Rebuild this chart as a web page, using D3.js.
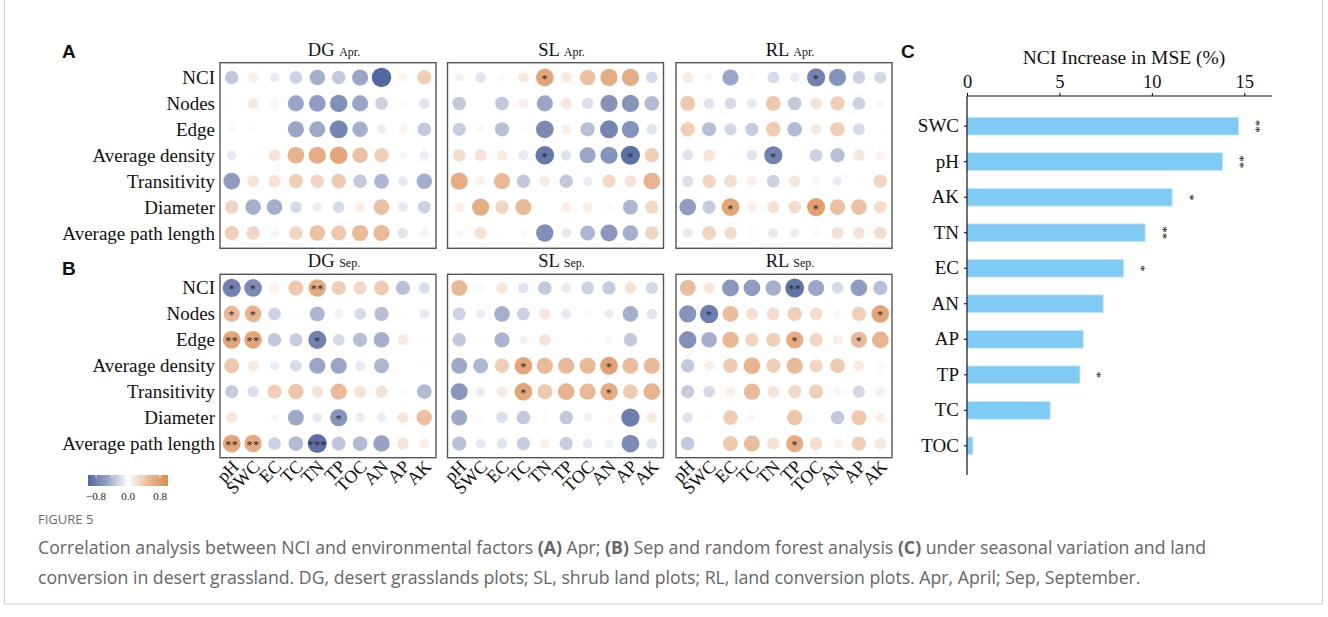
<!DOCTYPE html>
<html>
<head>
<meta charset="utf-8">
<script src="https://cdnjs.cloudflare.com/ajax/libs/d3/7.8.5/d3.min.js"></script>
<style>
  body { margin: 0; background: #fff; }
  svg { display: block; }
</style>
</head>
<body>
<div id="fig"></div>
<script>
// ---- data ----
var cols = ["pH", "SWC", "EC", "TC", "TN", "TP", "TOC", "AN", "AP", "AK"];
var rows = ["NCI", "Nodes", "Edge", "Average density", "Transitivity", "Diameter", "Average path length"];

var dgApr = [
  [-0.30, 0.12, -0.10, -0.25, -0.45, -0.30, -0.50, -0.85, 0.08, 0.35],
  [-0.02, 0.15, 0.08, -0.50, -0.55, -0.62, -0.50, -0.25, -0.03, -0.15],
  [0.06, -0.03, 0.00, -0.50, -0.48, -0.68, -0.45, -0.10, 0.08, -0.30],
  [-0.12, -0.03, 0.20, 0.55, 0.60, 0.65, 0.45, 0.35, -0.05, -0.10],
  [-0.55, 0.20, 0.22, 0.35, 0.30, 0.38, -0.30, -0.40, -0.12, -0.45],
  [0.30, -0.45, -0.45, -0.20, -0.10, -0.20, 0.12, 0.45, -0.12, -0.25],
  [0.35, 0.30, 0.08, 0.30, 0.45, 0.40, 0.50, 0.50, -0.15, -0.08]
];
var slApr = [
  [-0.08, -0.15, 0.05, 0.15, 0.65, 0.15, 0.45, 0.60, 0.60, -0.20],
  [-0.30, 0.00, -0.30, 0.12, -0.50, 0.18, -0.18, -0.60, -0.60, -0.38],
  [-0.28, 0.06, -0.35, 0.04, -0.65, 0.12, -0.35, -0.68, -0.60, -0.15],
  [0.25, 0.20, 0.15, -0.12, -0.75, -0.15, -0.50, -0.60, -0.80, 0.35],
  [0.60, 0.10, 0.50, -0.30, 0.15, -0.30, -0.10, 0.28, 0.20, 0.55],
  [0.12, 0.60, 0.30, 0.50, 0.02, 0.12, 0.12, 0.05, -0.40, 0.28],
  [-0.05, 0.22, 0.03, -0.04, -0.62, -0.12, -0.40, -0.58, -0.45, 0.30]
];
var rlApr = [
  [0.15, -0.05, -0.50, -0.03, -0.20, -0.10, -0.70, -0.60, -0.25, -0.22],
  [0.40, -0.15, -0.20, -0.12, 0.40, -0.30, 0.20, 0.35, -0.25, -0.05],
  [0.35, -0.35, -0.22, -0.28, 0.38, -0.38, 0.15, 0.35, -0.20, 0.02],
  [-0.15, 0.20, 0.02, -0.15, -0.70, 0.01, -0.25, -0.35, 0.18, 0.10],
  [-0.18, 0.30, 0.25, 0.12, -0.25, 0.18, 0.08, -0.10, 0.02, 0.30],
  [-0.55, -0.28, 0.65, 0.12, 0.22, 0.25, 0.70, 0.45, 0.45, 0.25],
  [-0.12, 0.32, 0.25, 0.04, -0.12, -0.10, 0.05, 0.22, 0.20, 0.25]
];
var dgSep = [
  [-0.70, -0.65, 0.10, 0.40, 0.62, 0.35, 0.28, 0.38, -0.35, -0.18],
  [0.50, 0.55, -0.25, -0.02, -0.40, -0.08, -0.20, -0.35, 0.02, -0.12],
  [0.65, 0.65, -0.30, -0.28, -0.70, -0.20, -0.35, -0.45, 0.15, -0.02],
  [0.40, 0.15, -0.10, -0.20, -0.50, -0.50, -0.12, -0.40, 0.01, -0.02],
  [-0.28, -0.18, 0.35, 0.42, 0.20, 0.50, 0.22, 0.22, 0.05, -0.38],
  [0.18, -0.01, -0.05, -0.48, -0.12, -0.60, -0.10, -0.10, 0.18, 0.45],
  [0.65, 0.62, -0.25, -0.38, -0.80, -0.32, -0.38, -0.52, 0.20, 0.12]
];
var slSep = [
  [0.50, 0.05, 0.18, -0.15, -0.30, -0.12, -0.25, -0.28, 0.20, -0.22],
  [-0.25, -0.10, -0.45, -0.25, 0.18, -0.12, 0.06, -0.10, -0.45, -0.15],
  [-0.30, 0.02, -0.42, -0.08, 0.20, 0.00, 0.02, -0.05, -0.30, 0.01],
  [-0.48, -0.40, 0.35, 0.65, 0.50, 0.50, 0.50, 0.68, 0.48, 0.50],
  [-0.58, -0.10, 0.15, 0.65, 0.40, 0.55, 0.50, 0.62, 0.38, 0.55],
  [-0.48, -0.03, -0.18, -0.30, 0.04, -0.30, -0.08, 0.04, -0.72, 0.15],
  [-0.35, -0.12, -0.15, -0.28, 0.10, -0.28, -0.12, -0.08, -0.65, -0.15]
];
var rlSep = [
  [0.48, 0.18, -0.58, -0.55, -0.45, -0.78, -0.50, -0.20, -0.55, -0.35],
  [-0.60, -0.72, 0.48, 0.22, 0.25, 0.35, 0.25, 0.06, 0.35, 0.65],
  [-0.62, -0.45, 0.52, 0.30, 0.35, 0.60, 0.30, 0.12, 0.50, 0.55],
  [-0.30, 0.12, 0.38, 0.55, 0.35, 0.50, 0.28, 0.38, 0.15, 0.06],
  [-0.28, -0.20, 0.12, 0.50, 0.20, 0.28, 0.35, 0.08, -0.22, 0.12],
  [-0.15, 0.04, 0.38, 0.06, 0.01, 0.42, 0.01, -0.30, 0.40, 0.12],
  [-0.30, 0.01, 0.40, 0.48, 0.22, 0.60, 0.25, 0.10, 0.35, 0.18]
];

// significance marks: [row, col, label]
var starsDgApr = [];
var starsSlApr = [[0, 4, "*"], [3, 4, "*"], [3, 8, "*"]];
var starsRlApr = [[0, 6, "*"], [3, 4, "*"], [5, 2, "*"], [5, 6, "*"]];
var starsDgSep = [[0, 0, "*"], [0, 1, "*"], [0, 4, "**"], [1, 0, "*"], [1, 1, "*"], [2, 0, "**"], [2, 1, "**"],
                  [2, 4, "*"], [5, 5, "*"], [6, 0, "**"], [6, 1, "**"], [6, 4, "***"]];
var starsSlSep = [[3, 3, "*"], [3, 7, "*"], [4, 3, "*"], [4, 7, "*"]];
var starsRlSep = [[0, 5, "**"], [1, 1, "*"], [1, 9, "*"], [2, 5, "*"], [2, 8, "*"], [6, 5, "*"]];

var legendTicks = [-0.8, 0.0, 0.8];

// random forest (panel C)
var rfVars = ["SWC", "pH", "AK", "TN", "EC", "AN", "AP", "TP", "TC", "TOC"];
var rfValues = [14.7, 13.83, 11.1, 9.64, 8.47, 7.37, 6.29, 6.11, 4.5, 0.32];
var rfSig = ["**", "**", "*", "**", "*", "", "", "*", "", ""];
var rfTicks = [0, 5, 10, 15];

// ---- layout ----
var W = 1328, H = 617;
var serif = "'Liberation Serif', 'Times New Roman', serif";
var sans = "'Liberation Sans', Arial, sans-serif";

var svg = d3.select("#fig").append("svg")
    .attr("width", W)
    .attr("height", H);

// outer frame
svg.append("rect")
    .attr("x", 4.5).attr("y", -5)
    .attr("width", 1318).attr("height", 609)
    .attr("fill", "none")
    .attr("stroke", "#cfcfcf")
    .attr("stroke-width", 1);

var color = d3.scaleLinear()
    .domain([-0.85, 0, 0.85])
    .range(["#5267a0", "#ffffff", "#dc8a50"])
    .clamp(true);
var radius = d3.scalePow().exponent(0.35)
    .domain([0, 1])
    .range([0, 10.3]);

var boxX = [220, 447.5, 676];
var boxW = 216;

var panels = [
  { data: dgApr, stars: starsDgApr, site: "DG", month: "Apr.", col: 0, top: 62.7, bottom: 248.3, band: [64.5, 246] },
  { data: slApr, stars: starsSlApr, site: "SL", month: "Apr.", col: 1, top: 62.7, bottom: 248.3, band: [64.5, 246] },
  { data: rlApr, stars: starsRlApr, site: "RL", month: "Apr.", col: 2, top: 62.7, bottom: 248.3, band: [64.5, 246] },
  { data: dgSep, stars: starsDgSep, site: "DG", month: "Sep.", col: 0, top: 274.3, bottom: 457.7, band: [275, 456.5] },
  { data: slSep, stars: starsSlSep, site: "SL", month: "Sep.", col: 1, top: 274.3, bottom: 457.7, band: [275, 456.5] },
  { data: rlSep, stars: starsRlSep, site: "RL", month: "Sep.", col: 2, top: 274.3, bottom: 457.7, band: [275, 456.5] }
];

panels.forEach(function (p, pi) {
    var x0 = boxX[p.col];
    var x = d3.scaleBand().domain(cols).range([x0 + 1, x0 + boxW - 1]);
    var y = d3.scaleBand().domain(rows).range(p.band);
    var g = svg.append("g");

    g.append("rect")
        .attr("x", x0).attr("y", p.top)
        .attr("width", boxW).attr("height", p.bottom - p.top)
        .attr("fill", "#fff")
        .attr("stroke", "#555")
        .attr("stroke-width", 1.4);

    // title
    var t = g.append("text")
        .attr("x", x0 + boxW / 2 + 6)
        .attr("y", p.top - 7)
        .attr("text-anchor", "middle")
        .attr("font-family", serif)
        .attr("fill", "#111");
    t.append("tspan").attr("font-size", 18.5).text(p.site + " ");
    t.append("tspan").attr("font-size", 12).text(p.month);

    var cells = [];
    p.data.forEach(function (r, ri) {
        r.forEach(function (v, ci) { cells.push({ row: rows[ri], col: cols[ci], v: v }); });
    });

    g.selectAll("circle")
        .data(cells)
        .join("circle")
        .attr("cx", function (d) { return x(d.col) + x.bandwidth() / 2; })
        .attr("cy", function (d) { return y(d.row) + y.bandwidth() / 2; })
        .attr("r", function (d) { return radius(Math.abs(d.v)); })
        .attr("fill", function (d) { return color(d.v); });

    g.selectAll("text.star")
        .data(p.stars)
        .join("text")
        .attr("class", "star")
        .attr("x", function (d) { return x(cols[d[1]]) + x.bandwidth() / 2; })
        .attr("y", function (d) { return y(rows[d[0]]) + y.bandwidth() / 2 + 5.5; })
        .attr("text-anchor", "middle")
        .attr("font-family", serif)
        .attr("font-size", 12)
        .attr("letter-spacing", 0.5)
        .attr("fill", "#2a2a2a")
        .text(function (d) { return d[2]; });

    // row labels on the left column only
    if (p.col === 0) {
        g.selectAll("text.rlab")
            .data(rows)
            .join("text")
            .attr("class", "rlab")
            .attr("x", x0 - 5)
            .attr("y", function (d) { return y(d) + y.bandwidth() / 2 + 6.5; })
            .attr("text-anchor", "end")
            .attr("font-family", serif)
            .attr("font-size", 19)
            .attr("fill", "#111")
            .text(function (d) { return d; });
    }

    // column labels under the bottom row only
    if (pi >= 3) {
        g.selectAll("text.clab")
            .data(cols)
            .join("text")
            .attr("class", "clab")
            .attr("transform", function (d) {
                return "translate(" + (x(d) + x.bandwidth() / 2 + 8) + "," + (p.bottom + 10) + ") rotate(-45)";
            })
            .attr("text-anchor", "end")
            .attr("font-family", serif)
            .attr("font-size", 18)
            .attr("fill", "#111")
            .text(function (d) { return d; });
    }
});

// panel letters
[["A", 62, 58], ["B", 62, 275], ["C", 901, 58]].forEach(function (l) {
    svg.append("text")
        .attr("x", l[1]).attr("y", l[2])
        .attr("font-family", sans)
        .attr("font-weight", "bold")
        .attr("font-size", 19)
        .attr("fill", "#111")
        .text(l[0]);
});

// colour legend
var defs = svg.append("defs");
var grad = defs.append("linearGradient").attr("id", "corrGrad");
[-1, -0.5, 0, 0.5, 1].forEach(function (v) {
    grad.append("stop")
        .attr("offset", ((v + 1) / 2 * 100) + "%")
        .attr("stop-color", color(v));
});
var lx = d3.scaleLinear().domain([-1, 1]).range([88, 168]);
svg.append("rect")
    .attr("x", 88).attr("y", 475)
    .attr("width", 80).attr("height", 11)
    .attr("fill", "url(#corrGrad)");
svg.selectAll("line.ltick")
    .data([-0.8, -0.4, 0, 0.4, 0.8])
    .join("line")
    .attr("class", "ltick")
    .attr("x1", function (d) { return lx(d); })
    .attr("x2", function (d) { return lx(d); })
    .attr("y1", 475).attr("y2", 478)
    .attr("stroke", "#fff")
    .attr("stroke-width", 0.8);
svg.selectAll("text.ltext")
    .data(legendTicks)
    .join("text")
    .attr("class", "ltext")
    .attr("x", function (d) { return lx(d); })
    .attr("y", 500)
    .attr("text-anchor", "middle")
    .attr("font-family", serif)
    .attr("font-size", 11)
    .attr("fill", "#222")
    .text(function (d) { return d3.format(".1f")(d).replace("-", "\u2212"); });

// ---- panel C: random forest ----
var cx = d3.scaleLinear().domain([0, 16.5]).range([967, 1272]);
var cy = d3.scaleBand().domain(rfVars).range([99.5, 472.5]).padding(0.5);
var gc = svg.append("g");

gc.selectAll("rect.bar")
    .data(rfVars)
    .join("rect")
    .attr("class", "bar")
    .attr("x", cx(0))
    .attr("y", function (d) { return cy(d); })
    .attr("width", function (d, i) { return cx(rfValues[i]) - cx(0); })
    .attr("height", cy.bandwidth())
    .attr("fill", "#7fcbf5")
    .attr("stroke", "#c9e9fb")
    .attr("stroke-width", 0.8);

gc.selectAll("text.sig")
    .data(rfVars)
    .join("text")
    .attr("class", "sig")
    .attr("transform", function (d, i) {
        return "translate(" + (cx(rfValues[i]) + 14) + "," + (cy(d) + cy.bandwidth() / 2) + ") rotate(90)";
    })
    .attr("text-anchor", "middle")
    .attr("dy", "0.05em")
    .attr("font-family", serif)
    .attr("font-size", 13)
    .attr("fill", "#111")
    .text(function (d, i) { return rfSig[i]; });

var topAxis = gc.append("g")
    .attr("transform", "translate(0,96)")
    .call(d3.axisTop(cx).tickValues(rfTicks).tickSize(3).tickSizeOuter(0));
topAxis.select(".domain").remove();
topAxis.selectAll("text")
    .attr("font-family", serif)
    .attr("font-size", 18.5)
    .attr("fill", "#111")
    .attr("dy", "-0.1em");
gc.append("line")
    .attr("x1", 967).attr("x2", 1272)
    .attr("y1", 96).attr("y2", 96)
    .attr("stroke", "#111").attr("stroke-width", 1.2);

var leftAxis = gc.append("g")
    .attr("transform", "translate(967,0)")
    .call(d3.axisLeft(cy).tickSize(3).tickSizeOuter(0));
leftAxis.select(".domain").remove();
leftAxis.selectAll("text")
    .attr("font-family", serif)
    .attr("font-size", 19)
    .attr("fill", "#111")
    .attr("x", -8);
gc.append("line")
    .attr("x1", 967).attr("x2", 967)
    .attr("y1", 96).attr("y2", 475)
    .attr("stroke", "#111").attr("stroke-width", 1.2);

gc.append("text")
    .attr("x", 1124).attr("y", 64)
    .attr("text-anchor", "middle")
    .attr("font-family", serif)
    .attr("font-size", 19.5)
    .attr("fill", "#111")
    .text("NCI Increase in MSE (%)");

// ---- caption ----
var capFont = "'Open Sans', 'Noto Sans', sans-serif";
svg.append("text")
    .attr("x", 38).attr("y", 524)
    .attr("font-family", capFont)
    .attr("font-size", 13)
    .attr("fill", "#6b6b6b")
    .text("FIGURE 5");

var cap1 = svg.append("text")
    .attr("x", 38).attr("y", 554)
    .attr("font-family", capFont)
    .attr("font-size", 17.7)
    .attr("fill", "#666");
[["Correlation analysis between NCI and environmental factors ", false], ["(A)", true], [" Apr; ", false],
 ["(B)", true], [" Sep and random forest analysis ", false], ["(C)", true],
 [" under seasonal variation and land", false]].forEach(function (s) {
    cap1.append("tspan").attr("font-weight", s[1] ? "bold" : null).text(s[0]);
});
svg.append("text")
    .attr("x", 38).attr("y", 584)
    .attr("font-family", capFont)
    .attr("font-size", 17.7)
    .attr("fill", "#666")
    .text("conversion in desert grassland. DG, desert grasslands plots; SL, shrub land plots; RL, land conversion plots. Apr, April; Sep, September.");
</script>
</body>
</html>
